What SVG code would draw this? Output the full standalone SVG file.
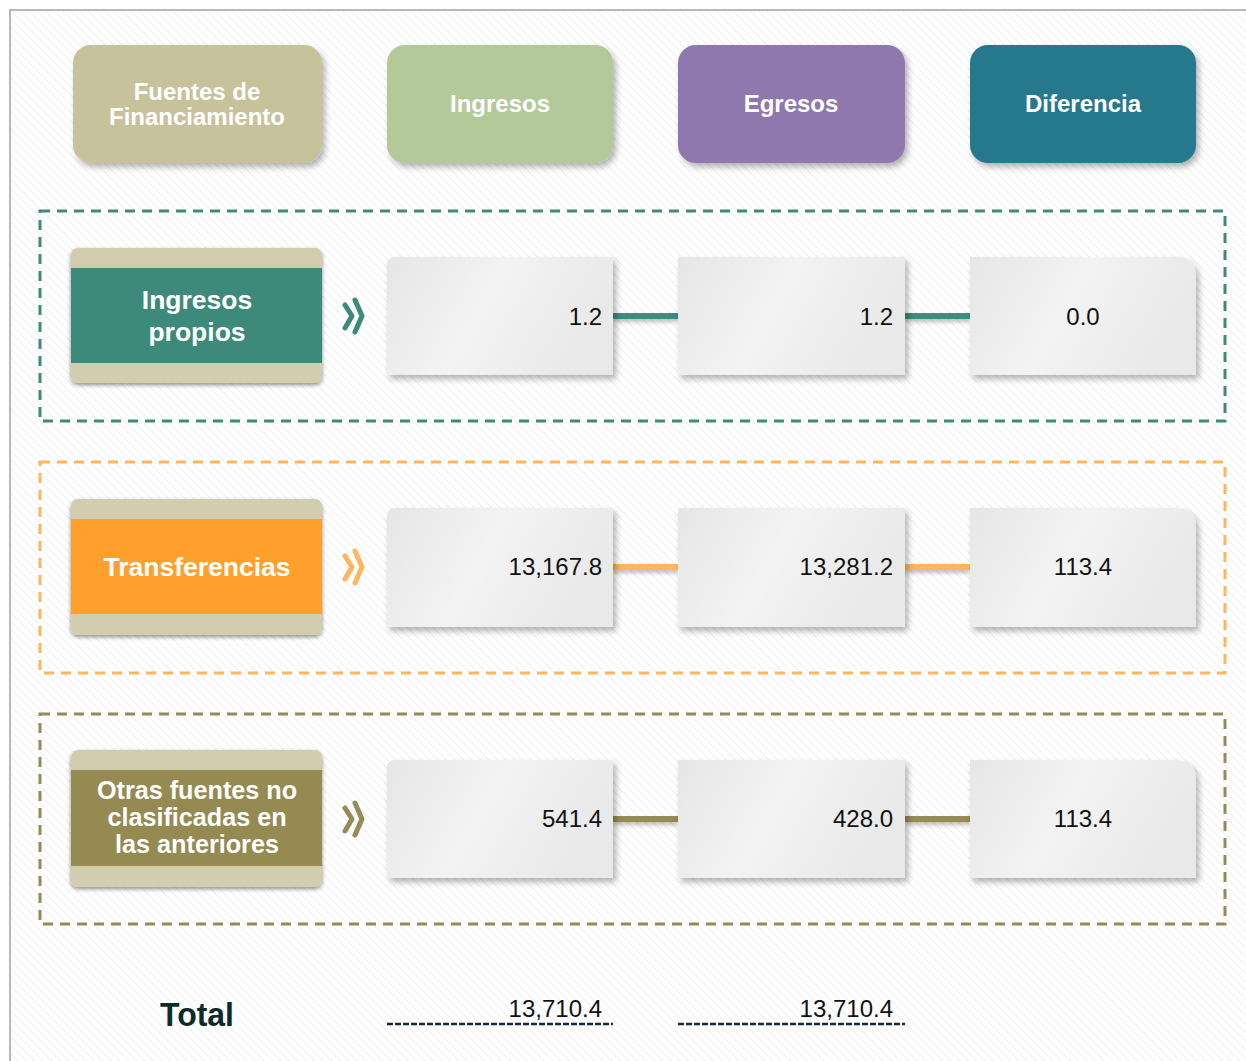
<svg xmlns="http://www.w3.org/2000/svg" width="1246" height="1061" viewBox="0 0 1246 1061">
<defs>
<pattern id="stripes" width="6" height="6" patternUnits="userSpaceOnUse" patternTransform="rotate(-45)">
<rect width="6" height="6" fill="#ffffff"/>
<line x1="0" y1="0" x2="0" y2="6" stroke="#efefef" stroke-width="2"/>
</pattern>
<linearGradient id="boxg" x1="0" y1="0" x2="1" y2="0.3">
<stop offset="0" stop-color="#e6e6e6"/>
<stop offset="0.5" stop-color="#f3f3f3"/>
<stop offset="1" stop-color="#e9e9e9"/>
</linearGradient>
<filter id="sh" x="-10%" y="-10%" width="125%" height="130%">
<feDropShadow dx="3" dy="4" stdDeviation="3" flood-color="#000" flood-opacity="0.3"/>
</filter>
<filter id="sh2" x="-10%" y="-10%" width="125%" height="130%">
<feDropShadow dx="0" dy="2" stdDeviation="2" flood-color="#000" flood-opacity="0.45"/>
</filter>
<filter id="lsh" filterUnits="userSpaceOnUse" x="0" y="0" width="1246" height="1061">
<feDropShadow dx="0" dy="3" stdDeviation="2" flood-color="#000" flood-opacity="0.25"/>
</filter>
</defs>
<style>
.hd{font-family:"Liberation Sans",Arial,sans-serif;font-weight:bold;font-size:24px;fill:#fff;text-anchor:middle}
.lb{font-family:"Liberation Sans",Arial,sans-serif;font-weight:bold;font-size:26.5px;fill:#fff;text-anchor:middle}
.lb3{font-family:"Liberation Sans",Arial,sans-serif;font-weight:bold;font-size:25.2px;fill:#fff;text-anchor:middle}
.v{font-family:"Liberation Sans",Arial,sans-serif;font-size:24px;fill:#111}
.vr{text-anchor:end}
.vc{text-anchor:middle}
.box{fill:url(#boxg);filter:url(#sh)}
.band{fill:#d3cdb0}
.dash{fill:none;stroke-width:3;stroke-dasharray:10 7}
.chev{fill:none;stroke-width:5;stroke-linecap:round;stroke-linejoin:round}
.conn{stroke-width:6;filter:url(#lsh)}
.ul{stroke:#14283a;stroke-width:2.5;stroke-dasharray:6 2}
</style>
<rect x="0" y="0" width="1246" height="1061" fill="#ffffff"/>
<rect x="10" y="10" width="1240" height="1060" fill="url(#stripes)" stroke="#b8b8b8" stroke-width="2"/>

<g id="header-fuentes">
<rect x="73" y="45" width="249" height="118" rx="18" fill="#c8c29c" filter="url(#sh)"/>
<text class="hd" x="197" y="100">Fuentes de</text>
<text class="hd" x="197" y="125">Financiamiento</text>
</g>
<g id="header-ingresos">
<rect x="387" y="45" width="226" height="118" rx="18" fill="#b4c99a" filter="url(#sh)"/>
<text class="hd" x="500" y="112">Ingresos</text>
</g>
<g id="header-egresos">
<rect x="678" y="45" width="227" height="118" rx="18" fill="#8e78ad" filter="url(#sh)"/>
<text class="hd" x="791" y="112">Egresos</text>
</g>
<g id="header-diferencia">
<rect x="970" y="45" width="226" height="118" rx="18" fill="#26788c" filter="url(#sh)"/>
<text class="hd" x="1083" y="112">Diferencia</text>
</g>

<g id="group-frames">
<rect class="dash" x="40" y="211" width="1185" height="210" stroke="#3c8c7c"/>
<rect class="dash" x="40" y="462" width="1185" height="211" stroke="#fdb65e"/>
<rect class="dash" x="40" y="714" width="1185" height="210" stroke="#958b57"/>
</g>

<g id="connectors">
<line class="conn" x1="613" y1="316" x2="678" y2="316" stroke="#3c8c7c"/>
<line class="conn" x1="905" y1="316" x2="970" y2="316" stroke="#3c8c7c"/>
<line class="conn" x1="613" y1="567" x2="678" y2="567" stroke="#fdb65e"/>
<line class="conn" x1="905" y1="567" x2="970" y2="567" stroke="#fdb65e"/>
<line class="conn" x1="613" y1="819" x2="678" y2="819" stroke="#958b57"/>
<line class="conn" x1="905" y1="819" x2="970" y2="819" stroke="#958b57"/>
</g>

<g id="label-ingresos-propios">
<rect class="band" x="71" y="248" width="251" height="135" rx="7" filter="url(#sh2)"/>
<rect x="71" y="268" width="251" height="95" fill="#3d8a7a"/>
<text class="lb" x="197" y="309">Ingresos</text>
<text class="lb" x="197" y="341">propios</text>
<path class="chev" d="M345 305 L352 316 L345 328 M355 300 L362 316 L355 332" stroke="#3d8a7a"/>
</g>
<g id="row1-ingresos">
<path class="box" d="M395 257 H613 V375 H387 V265 Q387 257 395 257 Z"/>
<text class="v vr" x="602" y="325">1.2</text>
</g>
<g id="row1-egresos">
<rect class="box" x="678" y="257" width="227" height="118"/>
<text class="v vr" x="893" y="325">1.2</text>
</g>
<g id="row1-diferencia">
<path class="box" d="M970 257 H1176 Q1196 257 1196 277 V375 H970 Z"/>
<text class="v vc" x="1083" y="325">0.0</text>
</g>

<g id="label-transferencias">
<rect class="band" x="71" y="499" width="251" height="136" rx="7" filter="url(#sh2)"/>
<rect x="71" y="519" width="251" height="95" fill="#ff9f2c"/>
<text class="lb" x="197" y="576">Transferencias</text>
<path class="chev" d="M345 556 L352 567 L345 579 M355 551 L362 567 L355 583" stroke="#fdb65e"/>
</g>
<g id="row2-ingresos">
<path class="box" d="M395 508 H613 V627 H387 V516 Q387 508 395 508 Z"/>
<text class="v vr" x="602" y="575">13,167.8</text>
</g>
<g id="row2-egresos">
<rect class="box" x="678" y="508" width="227" height="119"/>
<text class="v vr" x="893" y="575">13,281.2</text>
</g>
<g id="row2-diferencia">
<path class="box" d="M970 508 H1176 Q1196 508 1196 528 V627 H970 Z"/>
<text class="v vc" x="1083" y="575">113.4</text>
</g>

<g id="label-otras">
<rect class="band" x="71" y="750" width="251" height="137" rx="7" filter="url(#sh2)"/>
<rect x="71" y="770" width="251" height="96" fill="#948a52"/>
<text class="lb3" x="197" y="799">Otras fuentes no</text>
<text class="lb3" x="197" y="826">clasificadas en</text>
<text class="lb3" x="197" y="853">las anteriores</text>
<path class="chev" d="M345 808 L352 819 L345 831 M355 803 L362 819 L355 835" stroke="#958b57"/>
</g>
<g id="row3-ingresos">
<path class="box" d="M395 760 H613 V878 H387 V768 Q387 760 395 760 Z"/>
<text class="v vr" x="602" y="827">541.4</text>
</g>
<g id="row3-egresos">
<rect class="box" x="678" y="760" width="227" height="118"/>
<text class="v vr" x="893" y="827">428.0</text>
</g>
<g id="row3-diferencia">
<path class="box" d="M970 760 H1176 Q1196 760 1196 780 V878 H970 Z"/>
<text class="v vc" x="1083" y="827">113.4</text>
</g>

<g id="total">
<text x="197" y="1026" font-family="'Liberation Sans',Arial,sans-serif" font-weight="bold" font-size="33" fill="#0d2b2b" text-anchor="middle" textLength="74" lengthAdjust="spacingAndGlyphs">Total</text>
<text class="v vr" x="602" y="1017">13,710.4</text>
<text class="v vr" x="893" y="1017">13,710.4</text>
<line class="ul" x1="387" y1="1024" x2="613" y2="1024"/>
<line class="ul" x1="678" y1="1024" x2="905" y2="1024"/>
</g>
</svg>
